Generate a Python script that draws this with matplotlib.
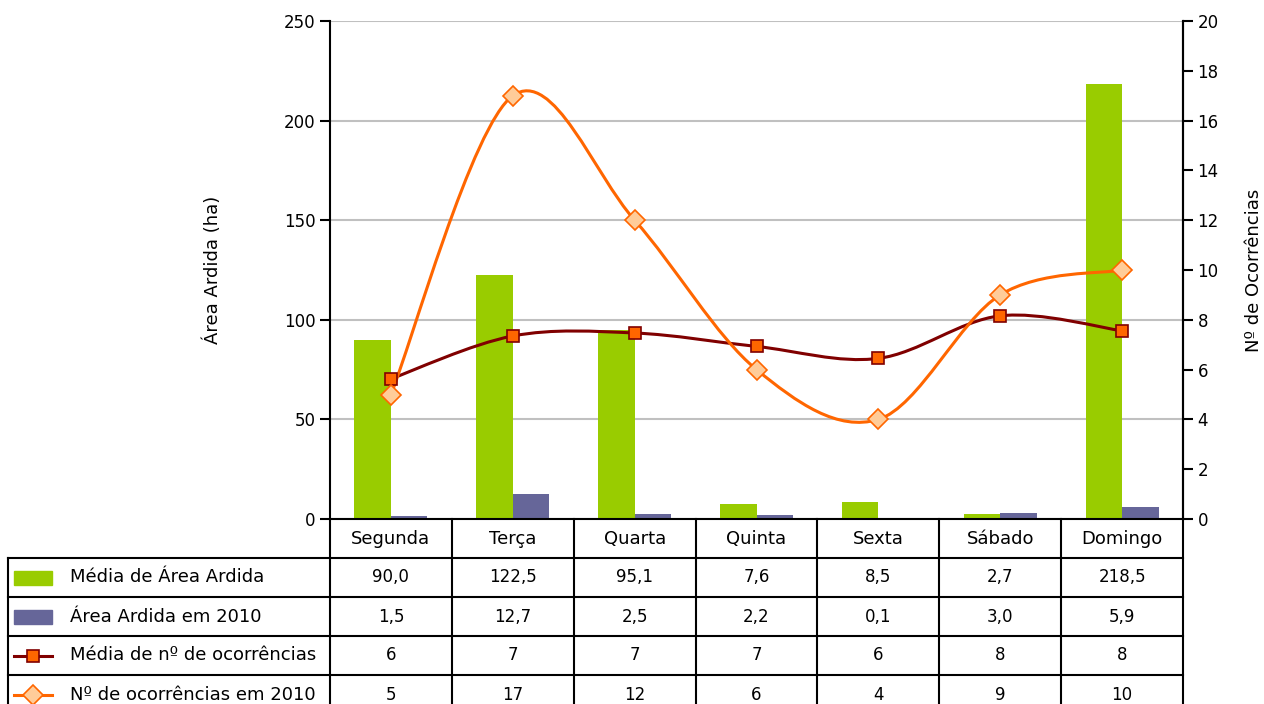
import matplotlib
matplotlib.use("Agg")
import matplotlib.pyplot as plt
from matplotlib.path import Path
from matplotlib.patches import PathPatch, Rectangle
from matplotlib.lines import Line2D

dias = ["Segunda", "Terça", "Quarta", "Quinta", "Sexta", "Sábado", "Domingo"]
media_area = [90.0, 122.5, 95.1, 7.6, 8.5, 2.7, 218.5]
area_2010 = [1.5, 12.7, 2.5, 2.2, 0.1, 3.0, 5.9]
media_ocorr = [5.63, 7.35, 7.47, 6.93, 6.45, 8.16, 7.56]
ocorr_2010 = [5, 17, 12, 6, 4, 9, 10]

VERDE = "#99CC00"
ROXO = "#666699"
BORDO = "#800000"
LARANJA = "#FF6600"
PESSEGO = "#FFCC99"

plt.rcParams['font.family'] = ['DejaVu Sans']
FS_NUM = 12
FS_TXT = 13


def curva_suave(xs, ys):
    """Caminho Bezier tipo Catmull-Rom pelos pontos (linha suavizada)."""
    pts = list(zip(xs, ys))
    n = len(pts)
    verts = [pts[0]]
    codes = [Path.MOVETO]
    for i in range(n - 1):
        p0 = pts[i - 1] if i > 0 else pts[i]
        p1 = pts[i]
        p2 = pts[i + 1]
        p3 = pts[i + 2] if i + 2 < n else pts[i + 1]
        c1 = (p1[0] + (p2[0] - p0[0]) / 6, p1[1] + (p2[1] - p0[1]) / 6)
        c2 = (p2[0] - (p3[0] - p1[0]) / 6, p2[1] - (p3[1] - p1[1]) / 6)
        verts += [c1, c2, p2]
        codes += [Path.CURVE4] * 3
    return Path(verts, codes)


fig = plt.figure(figsize=(12.64, 7.04), dpi=100)
ax = fig.add_axes([330 / 1264, 1 - 519 / 704, 853 / 1264, 498 / 704])
ax2 = ax.twinx()

x = list(range(len(dias)))
w = 0.3
ax.bar([i - w / 2 for i in x], media_area, w, color=VERDE, zorder=2)
ax.bar([i + w / 2 for i in x], area_2010, w, color=ROXO, zorder=2)
ax.set_xlim(-0.5, len(dias) - 0.5)
ax.set_ylim(0, 250)
ax.set_yticks(range(0, 251, 50))
ax.yaxis.grid(True, color="#C0C0C0", linewidth=1.5, zorder=0)
ax.set_axisbelow(True)
ax.set_xticks([])
ax.spines['top'].set_visible(False)
for s in ['left', 'right', 'bottom']:
    ax.spines[s].set_linewidth(1.5)
ax.tick_params(axis='y', labelsize=FS_NUM, length=7, width=1.5, direction='out')
ax.set_ylabel("Área Ardida (ha)", fontsize=FS_TXT)
ax.yaxis.set_label_coords(-108 / 853, 0.5)

# linhas no eixo secundário
ax2.set_ylim(0, 20)
ax2.set_yticks(range(0, 21, 2))
ax2.tick_params(axis='y', labelsize=FS_NUM, length=7, width=1.5, direction='out')
for s in ['top', 'left', 'bottom']:
    ax2.spines[s].set_visible(False)
ax2.spines['right'].set_linewidth(1.5)
ax2.set_ylabel("Nº de Ocorrências", fontsize=FS_TXT)
ax2.yaxis.set_label_coords(1 + 62 / 853, 0.5)

ax2.add_patch(PathPatch(curva_suave(x, media_ocorr), fill=False,
                        edgecolor=BORDO, linewidth=2.2, zorder=3))
ax2.plot(x, media_ocorr, linestyle='none', marker='s', markersize=8,
         markerfacecolor=LARANJA, markeredgecolor=BORDO, markeredgewidth=1.2, zorder=4)
ax2.add_patch(PathPatch(curva_suave(x, ocorr_2010), fill=False,
                        edgecolor=LARANJA, linewidth=2.2, zorder=3))
ax2.plot(x, ocorr_2010, linestyle='none', marker='D', markersize=10,
         markerfacecolor=PESSEGO, markeredgecolor=LARANJA, markeredgewidth=1.2, zorder=5)

# tabela de dados (desenhada à mão, estilo Excel)
nomes = ["Média de Área Ardida", "Área Ardida em 2010",
         "Média de nº de ocorrências", "Nº de ocorrências em 2010"]
celulas = [
    [f"{v:.1f}".replace(".", ",") for v in media_area],
    [f"{v:.1f}".replace(".", ",") for v in area_2010],
    [f"{v:.0f}" for v in media_ocorr],
    [f"{v:d}" for v in ocorr_2010],
]
tr = ax.get_xaxis_transform()   # x em dados, y em fração do eixo
h = 39 / 498                    # altura de cada linha da tabela
px = 7 / 853                    # largura de 1 px em unidades de categoria
x_esq = -0.5 - 322 * px
x_dir = len(dias) - 0.5
y_fim = -5 * h
kw_borda = dict(transform=tr, clip_on=False, color="black", linewidth=1.5, zorder=6)

for i in range(len(dias) + 1):
    ax.add_line(Line2D([i - 0.5, i - 0.5], [0, y_fim], **kw_borda))
ax.add_line(Line2D([x_esq, x_esq], [-h, y_fim], **kw_borda))
for r in range(1, 5):
    ax.add_line(Line2D([x_esq, x_dir], [-r * h, -r * h], **kw_borda))

for i, d in enumerate(dias):
    ax.text(i, -0.5 * h, d, transform=tr, fontsize=FS_TXT, ha='center', va='center')
for r, linha in enumerate(celulas):
    for i, txt in enumerate(linha):
        ax.text(i, -(1.5 + r) * h, txt, transform=tr, fontsize=FS_NUM,
                ha='center', va='center')

# chaves da legenda e nomes das séries
x_key0 = x_esq + 6 * px
x_key1 = x_esq + 44 * px
x_txt = x_esq + 62 * px
xm = (x_key0 + x_key1) / 2
for k, nome in enumerate(nomes):
    yc = -(1.5 + k) * h
    if k < 2:
        ax.add_patch(Rectangle((x_key0, yc - 7 / 498), x_key1 - x_key0, 14 / 498,
                               transform=tr, clip_on=False,
                               color=[VERDE, ROXO][k], zorder=6))
    else:
        cor = [BORDO, LARANJA][k - 2]
        ax.add_line(Line2D([x_key0, x_key1], [yc, yc], transform=tr,
                           clip_on=False, color=cor, linewidth=2.2, zorder=6))
        if k == 2:
            ax.add_line(Line2D([xm], [yc], transform=tr,
                               clip_on=False, marker='s', markersize=8,
                               markerfacecolor=LARANJA, markeredgecolor=BORDO,
                               markeredgewidth=1.2, zorder=7))
        else:
            ax.add_line(Line2D([xm], [yc], transform=tr,
                               clip_on=False, marker='D', markersize=10,
                               markerfacecolor=PESSEGO, markeredgecolor=LARANJA,
                               markeredgewidth=1.2, zorder=7))
    ax.text(x_txt, yc, nome, transform=tr, fontsize=FS_TXT,
            ha='left', va='center', zorder=7)

fig.savefig("out.png", dpi=100)
